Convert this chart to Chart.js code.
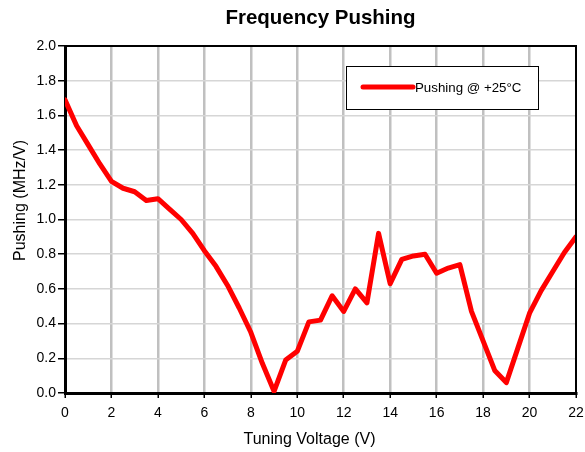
<!DOCTYPE html>
<html>
<head>
<meta charset="utf-8">
<script src="https://cdn.jsdelivr.net/npm/chart.js@4"></script>
<style>
  html, body { margin: 0; padding: 0; background: #fff; }
  #wrap { width: 585px; height: 452px; }
</style>
</head>
<body>
<div id="wrap"><canvas id="chart"></canvas></div>
<script>
const voltage = [0, 0.5, 1, 1.5, 2, 2.5, 3, 3.5, 4, 4.5, 5, 5.5, 6, 6.5, 7, 7.5, 8, 8.5, 9, 9.5, 10,
  10.5, 11, 11.5, 12, 12.5, 13, 13.5, 14, 14.5, 15, 15.5, 16, 16.5, 17, 17.5, 18, 18.5, 19, 19.5, 20,
  20.5, 21, 21.5, 22];
const pushing = [1.69, 1.54, 1.43, 1.32, 1.22, 1.18, 1.16, 1.11, 1.12, 1.06, 1.0, 0.92, 0.82, 0.73, 0.62, 0.49, 0.35, 0.17, 0.01, 0.19, 0.24,
  0.41, 0.42, 0.56, 0.47, 0.60, 0.52, 0.92, 0.63, 0.77, 0.79, 0.80, 0.69, 0.72, 0.74, 0.47, 0.30, 0.13, 0.06, 0.26, 0.46,
  0.59, 0.70, 0.81, 0.90];
const seriesName = 'Pushing @ +25°C';
const xTitle = 'Tuning Voltage (V)';
const yTitle = 'Pushing (MHz/V)';
const FONT = 'Arial, "Liberation Sans", sans-serif';

// frame round the plot, axis titles and the boxed legend in the upper right
const frameAndLegend = {
  id: 'frameAndLegend',
  afterDraw(chart) {
    const { ctx, chartArea: a } = chart;
    ctx.save();
    ctx.strokeStyle = '#000';
    ctx.lineWidth = 2;
    ctx.beginPath();
    ctx.moveTo(a.left, a.top);
    ctx.lineTo(a.right, a.top);
    ctx.lineTo(a.right, a.bottom);
    ctx.stroke();

    // axis titles sit a little off-centre
    ctx.fillStyle = '#000';
    ctx.font = '16px ' + FONT;
    ctx.textAlign = 'center';
    ctx.textBaseline = 'middle';
    ctx.fillText(xTitle, (a.left + a.right) / 2 - 11, a.bottom + 47);
    ctx.save();
    ctx.translate(21, (a.top + a.bottom) / 2 - 19);
    ctx.rotate(-Math.PI / 2);
    ctx.fillText(yTitle, 0, 0);
    ctx.restore();

    const bx = a.left + 281, by = a.top + 20, bw = 192, bh = 43;
    ctx.fillStyle = '#fff';
    ctx.fillRect(bx, by, bw, bh);
    ctx.lineWidth = 1;
    ctx.strokeRect(bx + 0.5, by + 0.5, bw, bh);
    ctx.strokeStyle = '#ff0000';
    ctx.lineWidth = 5;
    ctx.lineCap = 'round';
    ctx.beginPath();
    ctx.moveTo(bx + 17, by + 21);
    ctx.lineTo(bx + 67, by + 21);
    ctx.stroke();
    ctx.fillStyle = '#000';
    ctx.font = '13.3px ' + FONT;
    ctx.textAlign = 'left';
    ctx.fillText(seriesName, bx + 69, by + 22);
    ctx.restore();
  }
};

new Chart(document.getElementById('chart'), {
  type: 'line',
  data: {
    datasets: [{
      label: seriesName,
      data: voltage.map((v, i) => ({ x: v, y: pushing[i] })),
      borderColor: '#ff0000',
      borderWidth: 5,
      pointRadius: 0,
      tension: 0,
      borderJoinStyle: 'round',
      borderCapStyle: 'round'
    }]
  },
  options: {
    responsive: true,
    maintainAspectRatio: false,
    animation: false,
    layout: { padding: { left: 0, right: 9, top: 0, bottom: 0 } },
    plugins: {
      legend: { display: false },
      tooltip: { enabled: false },
      title: {
        display: true,
        fullSize: false,
        text: 'Frequency Pushing',
        color: '#000',
        font: { family: FONT, size: 20.5, weight: 'bold' },
        padding: { top: 6, bottom: 15.4 }
      }
    },
    scales: {
      x: {
        type: 'linear',
        min: 0, max: 22,
        afterFit(s) { s.height = 59; s.paddingLeft = 0; s.paddingRight = 0; },
        ticks: { stepSize: 2, color: '#000', font: { family: FONT, size: 14 }, padding: 7 },
        grid: {
          color: c => (c.tick.value === 0 || c.tick.value === 22) ? 'rgba(0,0,0,0)' : '#c0c0c0',
          lineWidth: 2.5,
          tickColor: '#000',
          tickWidth: 1.5,
          tickLength: 5
        },
        border: { color: '#000', width: 3 }
      },
      y: {
        min: 0, max: 2,
        afterFit(s) { s.width = 65; },
        ticks: {
          stepSize: 0.2,
          color: '#000',
          font: { family: FONT, size: 14 },
          padding: 2,
          callback: v => Number(v).toFixed(1)
        },
        grid: {
          color: c => (c.tick.value === 0 || c.tick.value === 2) ? 'rgba(0,0,0,0)' : '#d6d6d6',
          lineWidth: 1.5,
          tickColor: '#000',
          tickWidth: 1.5,
          tickLength: 7
        },
        border: { color: '#000', width: 3 }
      }
    }
  },
  plugins: [frameAndLegend]
});
</script>
</body>
</html>
